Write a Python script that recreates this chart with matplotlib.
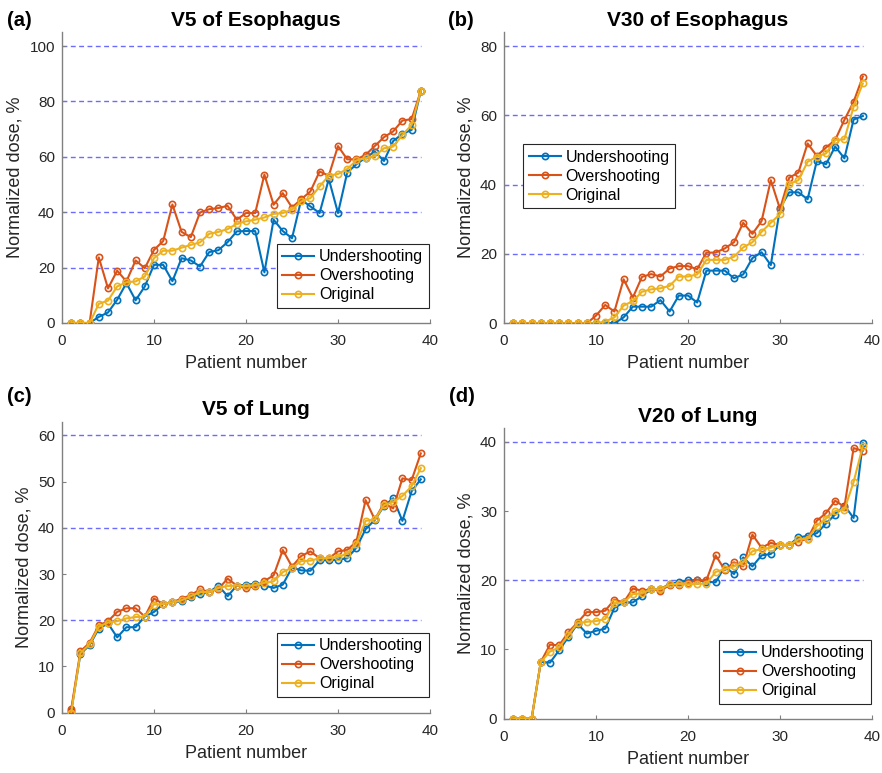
import numpy as np
import matplotlib
matplotlib.use('Agg')
import matplotlib.pyplot as plt

plt.rcParams['font.family'] = ['Liberation Sans', 'DejaVu Sans']

#%% dose data per patient (1..39)
patients = np.arange(1, 40)

# V5 of Esophagus
under_v5_eso = [0, 0, 0, 2.2, 3.8, 8.4, 14.4, 8.2, 13.2, 21.0, 21.0, 15.1, 23.4, 22.6, 20.4, 25.6, 26.3, 29.2, 33.1, 33.2,
                33.2, 18.3, 37.3, 33.2, 30.6, 44.5, 42.1, 39.7, 52.0, 39.7, 54.3, 57.3, 59.7, 61.9, 58.5, 65.7, 68.3, 69.7, 83.8]
over_v5_eso = [0, 0, 0, 23.7, 12.5, 18.9, 15.0, 22.6, 19.8, 26.4, 29.6, 42.8, 32.9, 31.0, 39.9, 41.1, 41.5, 42.3, 37.3, 39.7,
               39.7, 53.6, 42.7, 46.9, 41.7, 44.7, 47.5, 54.7, 53.2, 63.9, 59.1, 59.1, 60.7, 63.9, 67.1, 69.2, 73.1, 73.6, 83.8]
orig_v5_eso = [0, 0, 0, 6.9, 8.1, 13.2, 14.7, 15.0, 16.8, 23.4, 26.1, 26.1, 27.2, 28.2, 29.1, 32.2, 32.9, 33.9, 35.8, 36.7,
               37.3, 38.1, 39.4, 39.7, 40.9, 43.9, 45.1, 49.3, 53.2, 53.8, 55.6, 58.7, 59.5, 60.3, 63.1, 63.7, 67.9, 71.5, 83.8]

# V30 of Esophagus
under_v30_eso = [0, 0, 0, 0, 0, 0, 0, 0, 0, 0, 0.2, 0, 1.7, 4.8, 4.8, 4.8, 6.7, 3.4, 8.0, 8.0,
                 6.0, 15.2, 15.2, 15.2, 13.0, 14.1, 18.8, 20.5, 16.8, 33.2, 37.8, 37.8, 35.8, 46.8, 45.9, 51.0, 47.6, 58.8, 59.8]
over_v30_eso = [0, 0, 0, 0, 0, 0, 0, 0, 0, 2.2, 5.3, 3.4, 12.7, 7.4, 13.4, 14.2, 13.5, 15.8, 16.5, 16.5,
                15.6, 20.4, 20.4, 21.6, 23.4, 29.0, 25.8, 29.5, 41.3, 33.0, 42.0, 43.5, 51.9, 48.3, 50.7, 52.9, 58.7, 63.9, 71.2]
orig_v30_eso = [0, 0, 0, 0, 0, 0, 0, 0, 0, 0, 0.5, 1.7, 5.1, 6.4, 9.1, 9.8, 10.1, 10.8, 13.5, 13.5,
                14.1, 18.3, 18.3, 18.3, 19.2, 21.9, 23.4, 26.4, 29.0, 31.5, 40.2, 41.3, 46.6, 48.1, 49.0, 52.9, 53.1, 62.5, 69.2]

# V5 of Lung
under_v5_lung = [0.3, 12.7, 14.6, 18.2, 19.3, 16.3, 18.5, 18.5, 20.8, 21.8, 23.5, 23.9, 24.1, 25.0, 25.6, 26.1, 27.5, 25.2, 27.5, 27.7,
                 27.9, 27.5, 27.0, 27.7, 31.4, 30.8, 30.7, 33.0, 33.0, 33.1, 33.4, 35.7, 39.7, 41.7, 44.7, 46.4, 41.5, 47.9, 50.5]
over_v5_lung = [0.7, 13.3, 15.1, 18.9, 19.8, 21.8, 22.6, 22.6, 20.8, 24.7, 23.5, 23.9, 24.7, 25.4, 26.7, 26.1, 26.8, 29.0, 27.5, 26.9,
                27.4, 28.5, 29.7, 35.2, 31.6, 33.9, 34.9, 33.4, 33.4, 34.9, 35.2, 37.0, 46.0, 41.8, 45.3, 44.2, 50.7, 50.3, 56.1]
orig_v5_lung = [0.0, 12.9, 14.8, 18.6, 19.5, 19.8, 20.4, 20.7, 20.8, 23.4, 23.5, 23.9, 24.3, 25.2, 26.1, 26.1, 27.0, 27.4, 27.5, 27.4,
                27.6, 28.1, 28.4, 30.4, 31.4, 32.8, 32.9, 33.4, 33.5, 33.7, 34.4, 36.5, 41.5, 41.8, 44.9, 45.6, 46.9, 49.0, 52.9]

# V20 of Lung
under_v20_lung = [0, 0, 0, 8.2, 8.1, 9.9, 11.8, 13.7, 12.3, 12.7, 13.0, 16.0, 16.8, 16.8, 17.7, 18.7, 18.7, 19.5, 19.7, 20.0,
                  20.0, 19.8, 19.7, 22.0, 20.9, 23.3, 22.0, 23.6, 23.8, 25.1, 25.1, 26.2, 26.4, 26.8, 28.2, 29.5, 30.8, 29.0, 39.8]
over_v20_lung = [0, 0, 0, 8.2, 10.7, 10.6, 12.5, 13.9, 15.4, 15.4, 15.6, 17.2, 16.8, 18.8, 18.5, 18.7, 18.5, 19.3, 19.3, 19.6,
                 20.0, 20.0, 23.6, 21.5, 22.6, 22.0, 26.6, 24.7, 25.4, 25.1, 25.1, 25.6, 26.0, 28.6, 29.7, 31.5, 30.6, 39.1, 38.7]
orig_v20_lung = [0, 0, 0, 8.2, 9.7, 10.3, 12.1, 13.8, 14.0, 14.1, 14.4, 16.7, 16.8, 18.0, 18.1, 18.7, 18.7, 19.4, 19.5, 19.4,
                 19.5, 19.5, 21.2, 21.6, 22.0, 22.6, 24.2, 24.5, 24.7, 25.1, 25.1, 25.9, 26.0, 27.8, 28.9, 30.0, 30.2, 34.2, 39.4]

titles = ['V5 of Esophagus', 'V30 of Esophagus', 'V5 of Lung', 'V20 of Lung']
tags = ['(a)', '(b)', '(c)', '(d)']
series_names = ['Undershooting', 'Overshooting', 'Original']
colors = ['#0072BD', '#D95319', '#EDB120']

#%% plot
W, H = 882, 773
fig = plt.figure(figsize=(W / 100, H / 100), dpi=100)

def px_axes(left, right, bottom, top):
    return fig.add_axes([left / W, 1 - bottom / H, (right - left) / W, (bottom - top) / H])

panels = [
    dict(box=(62, 430, 323, 32.2), ylim=105, yticks=range(0, 101, 20), grid=[20, 40, 60, 80, 100],
         data=[under_v5_eso, over_v5_eso, orig_v5_eso], leg=dict(loc='lower right', bbox_to_anchor=(0.997, 0.052)),
         tag=(19, 20)),
    dict(box=(504, 872, 323.3, 32.2), ylim=84, yticks=range(0, 81, 20), grid=[20, 40, 60, 80],
         data=[under_v30_eso, over_v30_eso, orig_v30_eso], leg=dict(loc='upper left', bbox_to_anchor=(0.052, 0.616)),
         tag=(461, 20)),
    dict(box=(62, 430, 712.7, 421.5), ylim=63, yticks=range(0, 61, 10), grid=[20, 40, 60],
         data=[under_v5_lung, over_v5_lung, orig_v5_lung], leg=dict(loc='lower right', bbox_to_anchor=(0.997, 0.054)),
         tag=(19.5, 397)),
    dict(box=(504, 872, 718.7, 428), ylim=42, yticks=range(0, 41, 10), grid=[20, 40],
         data=[under_v20_lung, over_v20_lung, orig_v20_lung], leg=dict(loc='lower right', bbox_to_anchor=(0.997, 0.051)),
         tag=(462, 397)),
]

for i, p in enumerate(panels):
    ax = px_axes(*p['box'])
    # dashed reference levels
    ax.hlines(p['grid'], 0, 39, colors='#6b6bff', linestyles=(0, (3.5, 2.5)), lw=1.0, zorder=1)
    for vals, name, c in zip(p['data'], series_names, colors):
        ax.plot(patients, vals, '-o', color=c, lw=1.5, ms=4.5, mfc='none', mew=1.2, label=name, zorder=3)
    ax.set_xlim(0, 40)
    ax.set_ylim(0, p['ylim'])
    ax.set_xticks(range(0, 41, 10))
    ax.set_yticks(list(p['yticks']))
    for s in ['top', 'right']:
        ax.spines[s].set_visible(False)
    for s in ['left', 'bottom']:
        ax.spines[s].set_color('#808080')
        ax.spines[s].set_linewidth(1.0)
    ax.tick_params(direction='in', length=3, width=0.8, color='#808080', labelsize=11, labelcolor='#262626')
    ax.tick_params(axis='x', pad=8)
    ax.tick_params(axis='y', pad=5)
    ax.set_xlabel('Patient number', fontsize=13, color='#262626', labelpad=5)
    ax.set_ylabel('Normalized dose, %', fontsize=13, color='#262626', labelpad=4)
    ax.set_title(titles[i], fontsize=15, fontweight='bold', x=0.526, pad=4.5)
    leg = ax.legend(fontsize=11.5, frameon=True, fancybox=False, framealpha=1, edgecolor='#262626',
                    handlelength=2.0, labelspacing=0.25, borderpad=0.35, handletextpad=0.3,
                    borderaxespad=0, **p['leg'])
    leg.get_frame().set_linewidth(0.8)
    fig.text(p['tag'][0] / W, 1 - p['tag'][1] / H, tags[i], ha='center', va='center',
             fontsize=14.5, fontweight='bold')

fig.savefig('out.png', dpi=100)
